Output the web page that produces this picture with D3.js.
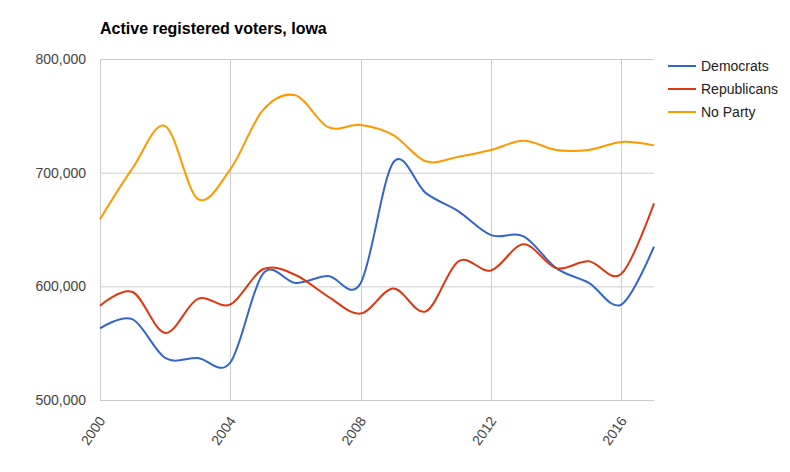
<!DOCTYPE html>
<html>
<head>
<meta charset="utf-8">
<script src="https://cdn.jsdelivr.net/npm/d3@7"></script>
<style>
  body { margin: 0; background: #fff; }
  svg { display: block; font-family: Arial, "Liberation Sans", sans-serif; }
</style>
</head>
<body>
<svg id="chart" width="790" height="472"></svg>
<script>
const title = "Active registered voters, Iowa";
const years = [2000, 2001, 2002, 2003, 2004, 2005, 2006, 2007, 2008, 2009, 2010, 2011, 2012, 2013, 2014, 2015, 2016, 2017];
const seriesNames = ["Democrats", "Republicans", "No Party"];
const democrats   = [563, 571, 537, 537, 533, 611, 603, 609, 603, 709, 682, 666, 645, 644, 616, 603, 584, 635];
const republicans = [583, 595, 559, 589, 584, 615, 610, 591, 576, 598, 578, 622, 614, 637, 616, 622, 611, 673];
const noParty     = [659, 704, 741, 677, 703, 755, 768, 740, 742, 733, 710, 714, 720, 728, 720, 720, 727, 724];
const yTicks = [500000, 600000, 700000, 800000];
const xTicks = [2000, 2004, 2008, 2012, 2016];
const colors = ["#3366cc", "#dc3912", "#ff9900"];

const svg = d3.select("#chart");
const plotL = 100, plotR = 654, plotT = 59, plotB = 400;

const x = d3.scaleLinear().domain([years[0], years[years.length - 1]]).range([plotL, plotR]);
const y = d3.scaleLinear().domain([500000, 800000]).range([plotB, plotT]);

// Title
svg.append("text").attr("x", plotL).attr("y", 34)
  .attr("font-size", 16).attr("font-weight", "bold").attr("fill", "#000")
  .text(title);

// Horizontal gridlines
svg.append("g").selectAll("line").data(yTicks).join("line")
  .attr("x1", plotL).attr("x2", plotR)
  .attr("y1", d => y(d) + 0.5).attr("y2", d => y(d) + 0.5)
  .attr("stroke", "#cccccc").attr("stroke-width", 1);

// Vertical gridlines
svg.append("g").selectAll("line").data(xTicks).join("line")
  .attr("x1", d => Math.round(x(d)) + 0.5).attr("x2", d => Math.round(x(d)) + 0.5)
  .attr("y1", plotT).attr("y2", plotB)
  .attr("stroke", "#cccccc").attr("stroke-width", 1);

// Y labels
const fmt = d3.format(",");
svg.append("g").selectAll("text").data(yTicks).join("text")
  .attr("x", plotL - 14).attr("y", d => y(d) + 5)
  .attr("text-anchor", "end").attr("font-size", 14).attr("fill", "#444")
  .text(d => fmt(d));

// X labels (slanted)
svg.append("g").selectAll("text").data(xTicks).join("text")
  .attr("transform", d => `translate(${x(d) + 2},${plotB + 18}) rotate(-55)`)
  .attr("text-anchor", "end").attr("font-size", 14).attr("fill", "#444")
  .attr("dy", "0.35em")
  .text(d => d);

// Lines
const allSeries = [democrats, republicans, noParty];
const line = d3.line()
  .x((d, i) => x(years[i]))
  .y(d => y(d * 1000))
  .curve(d3.curveCardinal.tension(0));

svg.append("g").selectAll("path").data(allSeries).join("path")
  .attr("d", d => line(d))
  .attr("fill", "none")
  .attr("stroke", (d, i) => colors[i])
  .attr("stroke-width", 2);

// Legend
const lg = svg.append("g").selectAll("g").data(seriesNames).join("g")
  .attr("transform", (d, i) => `translate(668,${66 + i * 23})`);
lg.append("line").attr("x1", 0).attr("x2", 28).attr("y1", 0).attr("y2", 0)
  .attr("stroke", (d, i) => colors[i]).attr("stroke-width", 2);
lg.append("text").attr("x", 33).attr("y", 5)
  .attr("font-size", 14).attr("fill", "#222").text(d => d);
</script>
</body>
</html>
